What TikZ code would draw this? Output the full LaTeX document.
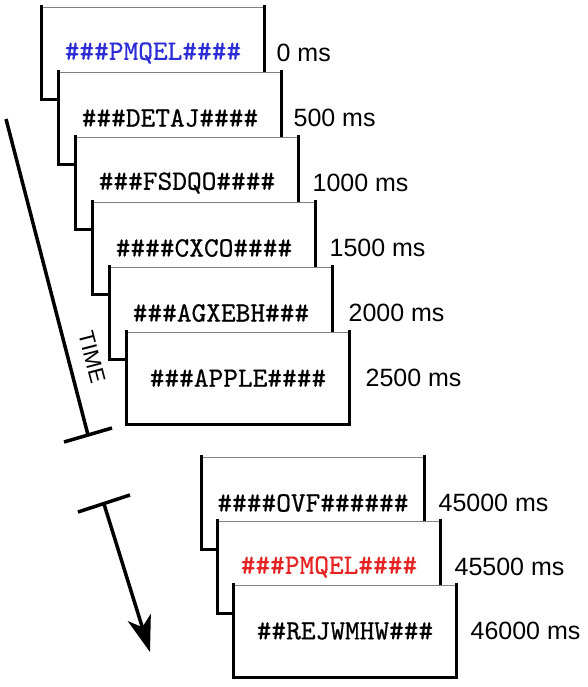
\documentclass[tikz,border=0pt]{standalone}
\usepackage{fontspec}
\newfontfamily\labelfont{Liberation Sans}
\newfontfamily\screenfont{lmmono10-regular}[Extension=.otf,FakeBold=0.6]
\usetikzlibrary{positioning,arrows.meta}
\definecolor{cueblue}{RGB}{45,45,215}
\definecolor{cuered}{RGB}{230,35,35}
\tikzset{
 screen/.style={draw=black!50,line width=1.8pt,fill=white,minimum width=221pt,
  minimum height=91pt,inner sep=0pt,font=\fontsize{28}{28}\selectfont\screenfont},
 rim/.style={line width=2.8pt,line cap=rect},
 stamp/.style={inner sep=0pt,font=\fontsize{25}{25}\selectfont\labelfont},
 timeline/.style={line width=3.5pt}
}

\begin{document}
\begin{tikzpicture}[x=1pt,y=-1pt]
 \useasboundingbox (0,0) rectangle (587,687);
 % first block of screens
 \node[screen] (s1) at (153,53) {\textcolor{cueblue}{\#\#\#PMQEL\#\#\#\#}};
 \draw[rim] (s1.north west) |- (s1.south east) -- (s1.north east);
 \node[stamp, right=12pt of s1] (ms1) {0 ms};
 \node[screen] (s2) at (170,118) {\#\#\#DETAJ\#\#\#\#};
 \draw[rim] (s2.north west) |- (s2.south east) -- (s2.north east);
 \node[stamp, right=12pt of s2] (ms2) {500 ms};
 \node[screen] (s3) at (187,183) {\#\#\#FSDQO\#\#\#\#};
 \draw[rim] (s3.north west) |- (s3.south east) -- (s3.north east);
 \node[stamp, right=14pt of s3] (ms3) {1000 ms};
 \node[screen] (s4) at (204,248) {\#\#\#\#CXCO\#\#\#\#};
 \draw[rim] (s4.north west) |- (s4.south east) -- (s4.north east);
 \node[stamp, right=14pt of s4] (ms4) {1500 ms};
 \node[screen] (s5) at (221,313) {\#\#\#AGXEBH\#\#\#};
 \draw[rim] (s5.north west) |- (s5.south east) -- (s5.north east);
 \node[stamp, right=16pt of s5] (ms5) {2000 ms};
 \node[screen] (s6) at (238,378) {\#\#\#APPLE\#\#\#\#};
 \draw[rim] (s6.north west) |- (s6.south east) -- (s6.north east);
 \node[stamp, right=16pt of s6] (ms6) {2500 ms};
 % time axis
 \coordinate (tstart) at (6,119);
 \coordinate (tend) at (88,435);
 \coordinate (tickl) at (64,442);
 \coordinate (tickr) at (112,428);
 \draw[timeline] (tstart) -- (tend);
 \draw[timeline] (tickl) -- (tickr);
 \node[stamp, font=\fontsize{22}{22}\selectfont\labelfont, rotate=-75.5] (time) at (92,357) {TIME};
 % second block of screens
 \node[screen] (s7) at (313,503) {\#\#\#\#OVF\#\#\#\#\#\#};
 \draw[rim] (s7.north west) |- (s7.south east) -- (s7.north east);
 \node[stamp, right=14pt of s7] (ms7) {45000 ms};
 \node[screen] (s8) at (329,567) {\textcolor{cuered}{\#\#\#PMQEL\#\#\#\#}};
 \draw[rim] (s8.north west) |- (s8.south east) -- (s8.north east);
 \node[stamp, right=14pt of s8] (ms8) {45500 ms};
 \node[screen] (s9) at (345,631) {\#\#REJWMHW\#\#\#};
 \draw[rim] (s9.north west) |- (s9.south east) -- (s9.north east);
 \node[stamp, right=14pt of s9] (ms9) {46000 ms};
 % continuing arrow
 \coordinate (astart) at (104,504);
 \coordinate (aend) at (150,652);
 \coordinate (barl) at (78,512);
 \coordinate (barr) at (130,495);
 \draw[timeline] (barl) -- (barr);
 \draw[timeline, -{Stealth[length=36pt,width=24pt,inset=10pt]}] (astart) -- (aend);
\end{tikzpicture}
\end{document}
